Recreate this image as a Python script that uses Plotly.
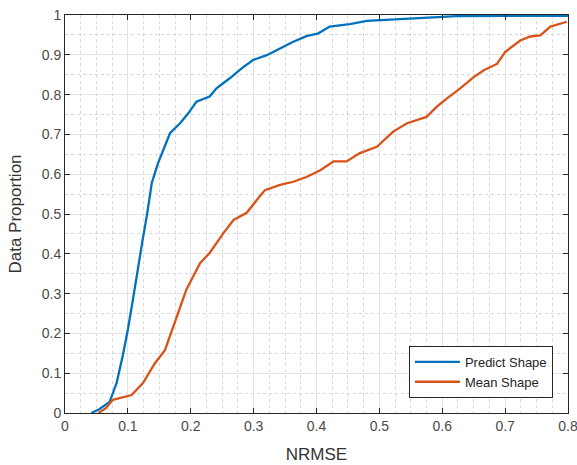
import plotly.graph_objects as go

predict_x = [0.042, 0.055, 0.071, 0.082, 0.092, 0.100, 0.108, 0.116, 0.124, 0.130, 0.138, 0.148,
             0.156, 0.167, 0.183, 0.196, 0.209, 0.230, 0.241, 0.262, 0.281, 0.299, 0.321, 0.342,
             0.363, 0.384, 0.403, 0.421, 0.453, 0.480, 0.528, 0.570, 0.623, 0.700, 0.800]
predict_y = [0.0, 0.01, 0.028, 0.075, 0.145, 0.21, 0.285, 0.368, 0.44, 0.494, 0.578, 0.628,
             0.661, 0.703, 0.728, 0.753, 0.782, 0.795, 0.816, 0.841, 0.866, 0.887, 0.899, 0.916,
             0.933, 0.947, 0.954, 0.971, 0.977, 0.985, 0.989, 0.994, 0.997, 0.998, 0.998]

# Mean Shape (orange) empirical CDF
mean_x = [0.053, 0.065, 0.076, 0.087, 0.106, 0.124, 0.143, 0.159, 0.172, 0.183, 0.193, 0.201,
          0.215, 0.230, 0.244, 0.252, 0.268, 0.289, 0.305, 0.318, 0.342, 0.363, 0.384, 0.406, 0.427,
          0.448, 0.469, 0.496, 0.522, 0.544, 0.575, 0.591, 0.607, 0.628, 0.650, 0.666, 0.687,
          0.700, 0.724, 0.740, 0.756, 0.772, 0.798]
mean_y = [0.0, 0.012, 0.033, 0.037, 0.045, 0.075, 0.125, 0.158, 0.217, 0.268, 0.31, 0.334,
          0.377, 0.402, 0.435, 0.452, 0.485, 0.503, 0.535, 0.56, 0.573, 0.581, 0.593, 0.61, 0.632,
          0.632, 0.653, 0.669, 0.707, 0.728, 0.744, 0.769, 0.79, 0.815, 0.844, 0.861, 0.877,
          0.907, 0.936, 0.946, 0.949, 0.971, 0.983]

x_ticks = [0, 0.1, 0.2, 0.3, 0.4, 0.5, 0.6, 0.7, 0.8]
x_labels = ["0", "0.1", "0.2", "0.3", "0.4", "0.5", "0.6", "0.7", "0.8"]
y_ticks = [0, 0.1, 0.2, 0.3, 0.4, 0.5, 0.6, 0.7, 0.8, 0.9, 1]
y_labels = ["0", "0.1", "0.2", "0.3", "0.4", "0.5", "0.6", "0.7", "0.8", "0.9", "1"]

FONT = "Liberation Sans, Arial, Helvetica"

fig = go.Figure()
fig.add_trace(go.Scatter(x=predict_x, y=predict_y, mode="lines", name="Predict Shape",
                         line=dict(color="#0072BD", width=2.3)))
fig.add_trace(go.Scatter(x=mean_x, y=mean_y, mode="lines", name="Mean Shape",
                         line=dict(color="#D95319", width=2.3)))

axis_common = dict(
    showline=True, linecolor="#262626", linewidth=1, mirror="ticks",
    ticks="inside", ticklen=5, tickcolor="#262626",
    showgrid=True, gridcolor="#e3e3e3", gridwidth=1,
    zeroline=False, automargin=False, ticklabeloverflow="allow",
    tickfont=dict(family=FONT, size=14, color="#4a4a4a"),
)

fig.update_xaxes(range=[0, 0.8], tickvals=x_ticks, ticktext=x_labels,
                 title=dict(text="NRMSE", font=dict(family=FONT, size=17, color="#333333")),
                 minor=dict(dtick=0.025, showgrid=True, gridcolor="#d8d8d8", griddash="dot", ticks=""),
                 **axis_common)
fig.update_yaxes(range=[0, 1], tickvals=y_ticks, ticktext=y_labels,
                 title=dict(text="Data Proportion", font=dict(family=FONT, size=17, color="#333333")),
                 minor=dict(dtick=0.05, showgrid=True, gridcolor="#d8d8d8", griddash="dot", ticks=""),
                 **axis_common)

fig.update_layout(
    width=577, height=465,
    margin=dict(l=65, r=9, t=15, b=52),
    plot_bgcolor="white", paper_bgcolor="white",
    legend=dict(x=0.97, y=0.038, xanchor="right", yanchor="bottom",
                bgcolor="white", bordercolor="#262626", borderwidth=1,
                itemwidth=45, tracegroupgap=0,
                font=dict(family=FONT, size=13, color="#262626")),
    showlegend=True,
)

fig.write_html("out.html",
               config={"displayModeBar": False},
               post_script="document.body.style.margin='0';document.body.style.overflow='hidden';")
